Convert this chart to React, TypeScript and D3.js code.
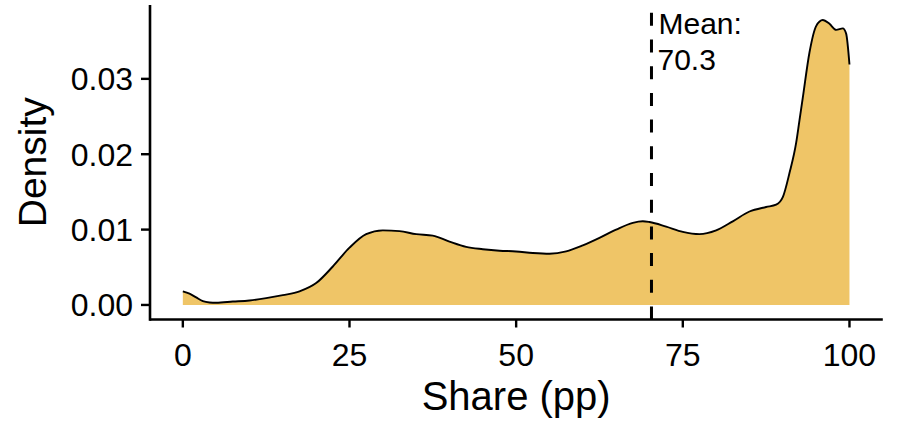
import React from 'react'
import * as d3 from 'd3'

// density estimate of share (pp)
const shareX = [0, 1, 2, 3, 4, 5, 7.5, 10, 12.5, 15, 17.5, 20, 22.5, 25, 27.5, 30, 32.5, 35, 37.5, 40, 42.5, 45, 47.5, 50, 52.5, 55, 57.5, 60, 62.5, 65, 67.5, 69, 70, 72.5, 75, 77.5, 80, 82.5, 85, 87.5, 89, 90, 91, 92, 92.5, 93, 94, 95, 96, 97, 98, 99, 99.5, 100]
const density = [0.0018, 0.0015, 0.001, 0.0005, 0.00033, 0.0003, 0.00045, 0.0006, 0.0009, 0.0013, 0.0018, 0.0029, 0.0051, 0.0076, 0.0094, 0.0099, 0.0098, 0.0094, 0.0092, 0.0084, 0.0077, 0.0074, 0.0072, 0.0071, 0.0069, 0.0068, 0.0071, 0.0079, 0.0089, 0.01, 0.0109, 0.0111, 0.011, 0.0104, 0.0097, 0.0094, 0.0099, 0.0111, 0.0124, 0.013, 0.0133, 0.0143, 0.0175, 0.0215, 0.0245, 0.0275, 0.0335, 0.037, 0.0378, 0.0373, 0.0365, 0.0367, 0.036, 0.0319]
const xTicks = [0, 25, 50, 75, 100]
const yTicks = [0, 0.01, 0.02, 0.03]
const meanShare = 70.3

const W = 897, H = 421
const FONT = '"Liberation Sans", Arial, Helvetica, sans-serif'

export default function App() {
  const x = d3.scaleLinear().domain([-5, 105]).range([149.5, 882.8])
  const y = d3.scaleLinear().domain([-0.00193, 0.0398]).range([319.5, 5])
  const pts = shareX.map((v, i) => ({ v, d: density[i] }))
  const area = d3.area<any>().x(p => x(p.v)).y0(y(0)).y1(p => y(p.d)).curve(d3.curveMonotoneX)
  const line = d3.line<any>().x(p => x(p.v)).y(p => y(p.d)).curve(d3.curveMonotoneX)
  const [x0, x1] = x.range()
  const [yb, yt] = y.range()

  return (
    <div style={{ position: 'absolute', left: 0, top: 0 }}>
      <svg width={W} height={H} style={{ display: 'block', background: '#fff' }} fontFamily={FONT}>
        <path d={area(pts) || ''} fill="#EFC567" />
        <path d={line(pts) || ''} fill="none" stroke="#000" strokeWidth={1.9} />
        <line x1={x(meanShare)} x2={x(meanShare)} y1={yb} y2={yt} stroke="#000" strokeWidth={3} strokeDasharray="13 13.7" />
        <text x={x(meanShare) + 7} y={34} fontSize={30}>Mean:</text>
        <text x={x(meanShare) + 6} y={70} fontSize={30}>{meanShare.toFixed(1)}</text>
        {/* axes */}
        <line x1={x0} x2={x1} y1={yb} y2={yb} stroke="#000" strokeWidth={2.6} />
        <line x1={150} x2={150} y1={yt} y2={yb + 1.3} stroke="#000" strokeWidth={2.6} />
        {xTicks.map(t => (
          <g key={t}>
            <line x1={x(t)} x2={x(t)} y1={yb} y2={yb + 8} stroke="#000" strokeWidth={2.4} />
            <text x={x(t)} y={366} textAnchor="middle" fontSize={32}>{t}</text>
          </g>
        ))}
        {yTicks.map(t => (
          <g key={t}>
            <line x1={141} x2={150} y1={y(t)} y2={y(t)} stroke="#000" strokeWidth={2.4} />
            <text x={133} y={y(t) + 11.5} textAnchor="end" fontSize={32}>{t.toFixed(2)}</text>
          </g>
        ))}
        <text x={(x0 + x1) / 2} y={410} textAnchor="middle" fontSize={40}>Share (pp)</text>
        <text transform={`translate(46,${(yb + yt) / 2}) rotate(-90)`} textAnchor="middle" fontSize={39}>Density</text>
      </svg>
    </div>
  )
}
